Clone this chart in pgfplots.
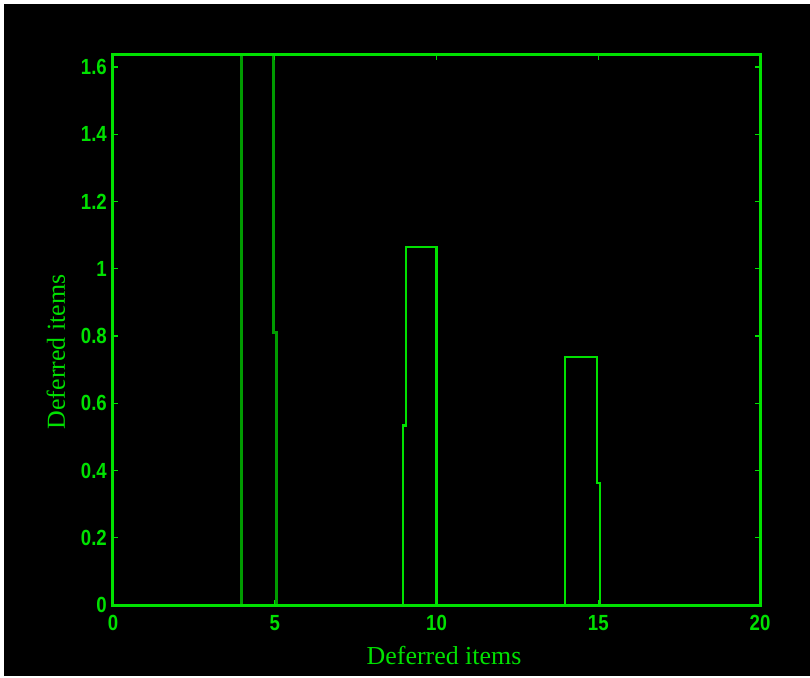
\documentclass[border=0pt]{standalone}
\usepackage{pgfplots}
\pgfplotsset{compat=1.18}
\usepackage{fontspec}
\setmainfont{Liberation Serif}
\newfontfamily\tickfont[FakeStretch=0.85]{Liberation Sans}
\definecolor{bgreen}{RGB}{0,225,0}
\definecolor{dgreen}{RGB}{0,155,0}
\begin{document}
\begin{tikzpicture}
\fill[white] (-113bp,-73bp) rectangle (697bp,605bp);
\fill[black] (-109bp,-71bp) rectangle (697bp,601bp);
\begin{axis}[
  at={(0,0)}, anchor=south west,
  scale only axis, width=647bp, height=550bp,
  xmin=0, xmax=20, ymin=0, ymax=1.636,
  xtick={0,5,10,15,20},
  ytick={0,0.2,0.4,0.6,0.8,1,1.2,1.4,1.6},
  axis line style={bgreen, line width=3bp},
  tick style={bgreen, line width=1.2bp},
  major tick length=5bp,
  tick align=inside,
  axis on top,
  /pgf/number format/assume math mode=true,
  ticklabel style={font=\tickfont\bfseries\fontsize{22}{22}\selectfont, text=bgreen},
  yticklabel style={inner sep=0pt, xshift=-6bp},
  xticklabel style={inner sep=0pt, yshift=-10bp},
  xlabel={Deferred items},
  ylabel={Deferred items},
  label style={font=\fontsize{26}{26}\selectfont, text=bgreen},
  xlabel style={at={(axis description cs:0.5116,-0.109)}, anchor=base},
  ylabel style={at={(axis description cs:-0.0742,0.46)}, anchor=base},
  clip=true,
]
\addplot[dgreen, line width=3bp] coordinates {
  (3.96,0) (3.96,2) (4.95,2) (4.95,0.81) (5.04,0.81) (5.04,0)
};
\addplot[bgreen, line width=2.2bp] coordinates {
  (8.96,0) (8.96,0.534) (9.05,0.534) (9.05,1.066) (10.0,1.066) (10.0,0)
};
\addplot[bgreen, line width=2.2bp] coordinates {
  (13.97,0) (13.97,0.737) (14.97,0.737) (14.97,0.362) (15.05,0.362) (15.05,0)
};
\end{axis}
\end{tikzpicture}
\end{document}
